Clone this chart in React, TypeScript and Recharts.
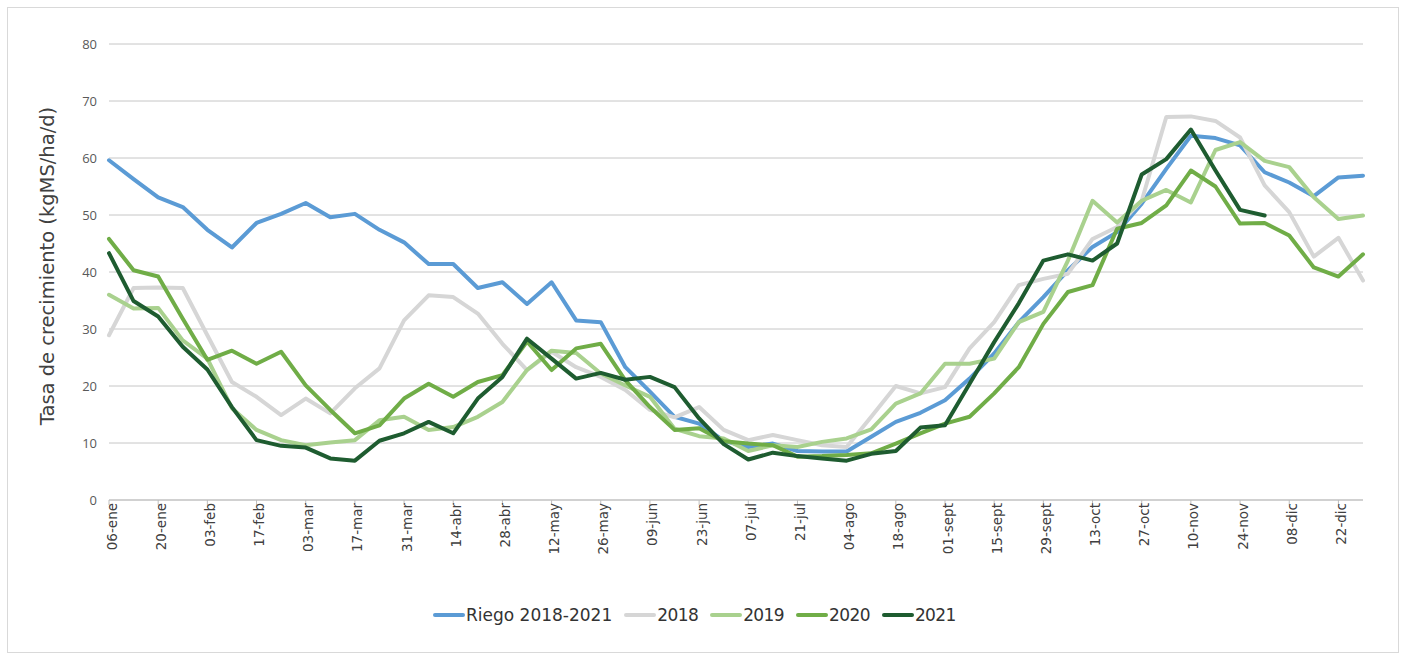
import { LineChart, Line, XAxis, YAxis, CartesianGrid, Legend } from 'recharts';

const weeks = [
  '06-ene', '13-ene', '20-ene', '27-ene', '03-feb', '10-feb', '17-feb', '24-feb',
  '03-mar', '10-mar', '17-mar', '24-mar', '31-mar', '07-abr', '14-abr', '21-abr',
  '28-abr', '05-may', '12-may', '19-may', '26-may', '02-jun', '09-jun', '16-jun',
  '23-jun', '30-jun', '07-jul', '14-jul', '21-jul', '28-jul', '04-ago', '11-ago',
  '18-ago', '25-ago', '01-sept', '08-sept', '15-sept', '22-sept', '29-sept', '06-oct',
  '13-oct', '20-oct', '27-oct', '03-nov', '10-nov', '17-nov', '24-nov', '01-dic',
  '08-dic', '15-dic', '22-dic', '29-dic',
];

const riego = [
  59.6, 56.3, 53.1, 51.4, 47.4, 44.3, 48.6, 50.2, 52.1, 49.6,
  50.2, 47.4, 45.2, 41.4, 41.4, 37.2, 38.2, 34.4, 38.2, 31.5,
  31.2, 23.3, 19.0, 14.6, 13.4, 10.4, 9.3, 9.9, 8.6, 8.5,
  8.5, 11.1, 13.7, 15.3, 17.5, 21.3, 25.7, 31.2, 35.6, 40.3,
  44.4, 47.0, 52.0, 58.1, 63.9, 63.5, 62.2, 57.5, 55.7, 53.3,
  56.6, 56.9,
];

const y2018 = [
  28.9, 37.2, 37.3, 37.2, 28.9, 20.7, 18.1, 14.9, 17.8, 15.2,
  19.6, 23.1, 31.5, 35.9, 35.6, 32.7, 27.4, 22.8, 26.0, 23.3,
  21.6, 19.3, 15.8, 14.5, 16.3, 12.3, 10.5, 11.4, 10.5, 9.6,
  9.3, 14.6, 20.0, 18.7, 19.8, 26.6, 31.2, 37.7, 38.8, 39.7,
  45.8, 47.9, 52.5, 67.2, 67.3, 66.5, 63.6, 55.2, 50.5, 42.7,
  46.0, 38.5,
];

const y2019 = [
  36.0, 33.6, 33.7, 28.0, 24.8, 16.1, 12.3, 10.5, 9.6, 10.1,
  10.5, 14.0, 14.6, 12.3, 12.8, 14.6, 17.2, 22.8, 26.2, 25.8,
  22.2, 20.1, 18.1, 12.5, 11.2, 10.8, 8.6, 9.6, 9.3, 10.2,
  10.8, 12.4, 16.9, 18.7, 23.9, 23.9, 24.8, 31.2, 33.0, 42.0,
  52.5, 48.7, 52.5, 54.4, 52.2, 61.4, 62.8, 59.5, 58.4, 53.1,
  49.3, 49.9,
];

const y2020 = [
  45.8, 40.3, 39.2, 31.8, 24.6, 26.2, 23.9, 26.0, 20.1, 15.8,
  11.7, 13.1, 17.8, 20.4, 18.1, 20.7, 21.9, 27.8, 22.8, 26.6,
  27.4, 21.0, 16.3, 12.3, 12.6, 10.3, 9.9, 9.6, 7.6, 7.7,
  7.9, 8.2, 9.9, 11.7, 13.4, 14.6, 18.7, 23.3, 30.9, 36.5,
  37.7, 47.6, 48.6, 51.7, 57.8, 55.0, 48.5, 48.6, 46.4, 40.8,
  39.2, 43.1,
];

const y2021 = [
  43.3, 34.9, 32.2, 26.9, 22.9, 16.3, 10.5, 9.5, 9.2, 7.3,
  6.9, 10.4, 11.7, 13.7, 11.7, 17.8, 21.6, 28.3, 24.8, 21.3,
  22.3, 21.1, 21.6, 19.8, 14.3, 9.8, 7.1, 8.3, 7.7, 7.3,
  6.9, 8.1, 8.6, 12.7, 13.1, 20.4, 27.7, 34.5, 42.0, 43.1,
  42.0, 45.0, 57.1, 59.8, 65.0, 57.8, 50.9, 49.9, null, null,
  null, null,
];

const yTicks = [0, 10, 20, 30, 40, 50, 60, 70, 80];

const series = [
  { key: 'riego', name: 'Riego 2018-2021', color: '#5B9BD5' },
  { key: 'y2018', name: '2018', color: '#D6D6D6' },
  { key: 'y2019', name: '2019', color: '#A9D18E' },
  { key: 'y2020', name: '2020', color: '#70AD47' },
  { key: 'y2021', name: '2021', color: '#1E5C30' },
];

const data = weeks.map((week, i) => ({
  week,
  riego: riego[i],
  y2018: y2018[i],
  y2019: y2019[i],
  y2020: y2020[i],
  y2021: y2021[i],
}));

const XTick = (props: any) => {
  const { x, y, payload } = props;
  return (
    <g transform={`translate(${x},${y})`}>
      <text
        x={0}
        y={0}
        dy={7.5}
        textAnchor="end"
        transform="rotate(-90)"
        fontFamily="DejaVu Sans"
        fontSize={13.5}
        fill="#404040"
      >
        {payload.value}
      </text>
    </g>
  );
};

// legend drawn by hand so the spacing follows the original
const legendContent = () => (
  <div
    style={{
      position: 'relative',
      left: 433 - 8,
      display: 'flex',
      alignItems: 'center',
      fontFamily: 'DejaVu Sans',
      fontSize: 17,
      color: '#333',
    }}
  >
    {series.map((s, i) => (
      <div
        key={s.key}
        style={{ display: 'flex', alignItems: 'center', marginLeft: i === 0 ? 0 : 12, letterSpacing: i === 0 ? 0 : -0.6 }}
      >
        <svg width={32} height={8} style={{ marginRight: 1 }}>
          <line x1={2} y1={4} x2={30} y2={4} stroke={s.color} strokeWidth={4} strokeLinecap="round" />
        </svg>
        <span>{s.name}</span>
      </div>
    ))}
  </div>
);

export default function App() {
  return (
    <div
      style={{
        position: 'absolute',
        left: 7,
        top: 7,
        width: 1390,
        height: 644,
        border: '1px solid #d9d9d9',
        background: '#fff',
      }}
    >
      <LineChart
        width={1390}
        height={644}
        data={data}
        margin={{ top: 36, right: 35, left: 0, bottom: 52 }}
      >
        <CartesianGrid vertical={false} stroke="#C6C6C6" strokeWidth={1} />
        <XAxis
          dataKey="week"
          interval={1}
          height={100}
          tickSize={5}
          tickMargin={-2}
          tick={<XTick />}
          axisLine={{ stroke: '#BFBFBF' }}
          tickLine={{ stroke: '#BFBFBF' }}
        />
        <YAxis
          width={101}
          domain={[0, 80]}
          ticks={yTicks}
          axisLine={false}
          tickLine={false}
          tickMargin={6}
          tick={{ fill: '#595959', fontSize: 13, fontFamily: 'Open Sans' }}
          label={{
            content: () => (
              <text
                x={39}
                y={258}
                textAnchor="middle"
                dominantBaseline="central"
                transform="rotate(-90, 39, 258)"
                fontFamily="DejaVu Sans"
                fontSize={19.5}
                fill="#404040"
              >
                Tasa de crecimiento (kgMS/ha/d)
              </text>
            ),
          }}
        />
        <Legend
          verticalAlign="middle"
          align="center"
          layout="horizontal"
          content={legendContent}
          wrapperStyle={{ top: 597, left: 0, width: 1390, bottom: 'auto' }}
        />
        {series.map((s) => (
          <Line
            key={s.key}
            type="linear"
            dataKey={s.key}
            name={s.name}
            stroke={s.color}
            strokeWidth={4}
            strokeLinejoin="round"
            strokeLinecap="round"
            dot={false}
            activeDot={false}
            connectNulls={false}
            isAnimationActive={false}
          />
        ))}
      </LineChart>
    </div>
  );
}
